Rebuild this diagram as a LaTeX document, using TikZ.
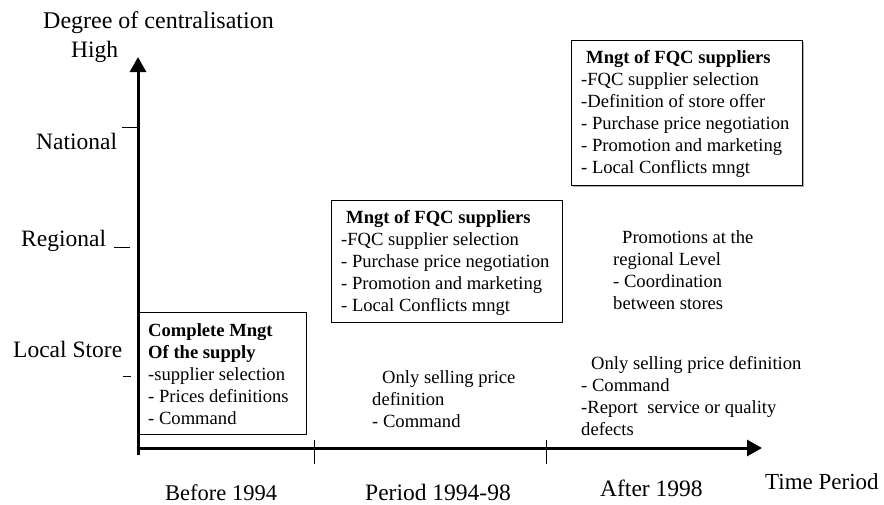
\documentclass[tikz,border=0pt]{standalone}
\usepackage{fontspec}
\setmainfont{Liberation Serif}
\usetikzlibrary{arrows.meta}
\begin{document}
\begin{tikzpicture}[x=1pt,y=-1pt,
  axisline/.style={line width=3pt, -{Triangle[length=15pt,width=16pt]}},
  tickline/.style={line width=1pt},
  boxline/.style={line width=1pt},
  axlab/.style={anchor=base west, inner sep=0pt, font=\fontsize{23.5}{27}\selectfont},
  body/.style={anchor=base west, inner sep=0pt, font=\fontsize{18.6}{22}\selectfont},
]
\useasboundingbox (0,0) rectangle (884,504);

% axes
\coordinate (yb) at (138,455);
\coordinate (yt) at (138,57);
\coordinate (xl) at (136.5,448);
\coordinate (xr) at (762,448);
\draw[axisline] (yb) -- (yt);
\draw[axisline] (xl) -- (xr);

% ticks
\draw[tickline] (122,127) -- (137,127);
\draw[tickline] (114,247) -- (130,247);
\draw[tickline] (123,376) -- (131,376);
\draw[tickline] (314,440) -- (314,464);
\draw[tickline] (546,440) -- (546,464);

% axis labels
\node[axlab, font=\fontsize{24}{28}\selectfont] (deg) at (43,28) {Degree of centralisation};
\node[axlab] (high) at (71,57) {High};
\node[axlab] (nat) at (36,149) {National};
\node[axlab] (reg) at (21,246) {Regional};
\node[axlab] (loc) at (13,357) {Local Store};
\node[axlab, font=\fontsize{22.5}{27}\selectfont] (p1) at (165,500) {Before 1994};
\node[axlab] (p2) at (365,500) {Period 1994-98};
\node[axlab] (p3) at (600,496) {After 1998};
\node[axlab, font=\fontsize{23}{27}\selectfont] (tp) at (765,489) {Time Period};

% boxes
\draw[boxline] (139,312) rectangle (306,434);
\draw[boxline] (331,200) rectangle (562,322);
\draw[gray!60, line width=1.5pt] (803.5,41.5) -- (803.5,186.5) -- (572.5,186.5);
\draw[boxline, fill=white] (571,40) rectangle (802,185);

% texts
\node[body] (t1) at (148,336) {\begin{tabular}[t]{@{}l@{}}\textbf{Complete Mngt}\\ \textbf{Of the supply}\\ -supplier selection\\ - Prices definitions\\ - Command\end{tabular}};
\node[body] (t2) at (341,223) {\begin{tabular}[t]{@{}l@{}}\hspace{5pt}\textbf{Mngt of FQC suppliers}\\ -FQC supplier selection\\ - Purchase price negotiation\\ - Promotion and marketing\\ - Local Conflicts mngt\end{tabular}};
\node[body] (t3) at (581,63) {\begin{tabular}[t]{@{}l@{}}\hspace{5pt}\textbf{Mngt of FQC suppliers}\\ -FQC supplier selection\\ -Definition of store offer\\ - Purchase price negotiation\\ - Promotion and marketing\\ - Local Conflicts mngt\end{tabular}};
\node[body] (t4) at (613,243) {\begin{tabular}[t]{@{}l@{}}\hspace{9pt}Promotions at the\\ regional Level\\ - Coordination\\ between stores\end{tabular}};
\node[body] (t5) at (372,383) {\begin{tabular}[t]{@{}l@{}}\hspace{10pt}Only selling price\\ definition\\ - Command\end{tabular}};
\node[body] (t6) at (581,369) {\begin{tabular}[t]{@{}l@{}}\hspace{10pt}Only selling price definition\\ - Command\\ -Report~ service or quality\\ defects\end{tabular}};
\end{tikzpicture}
\end{document}
